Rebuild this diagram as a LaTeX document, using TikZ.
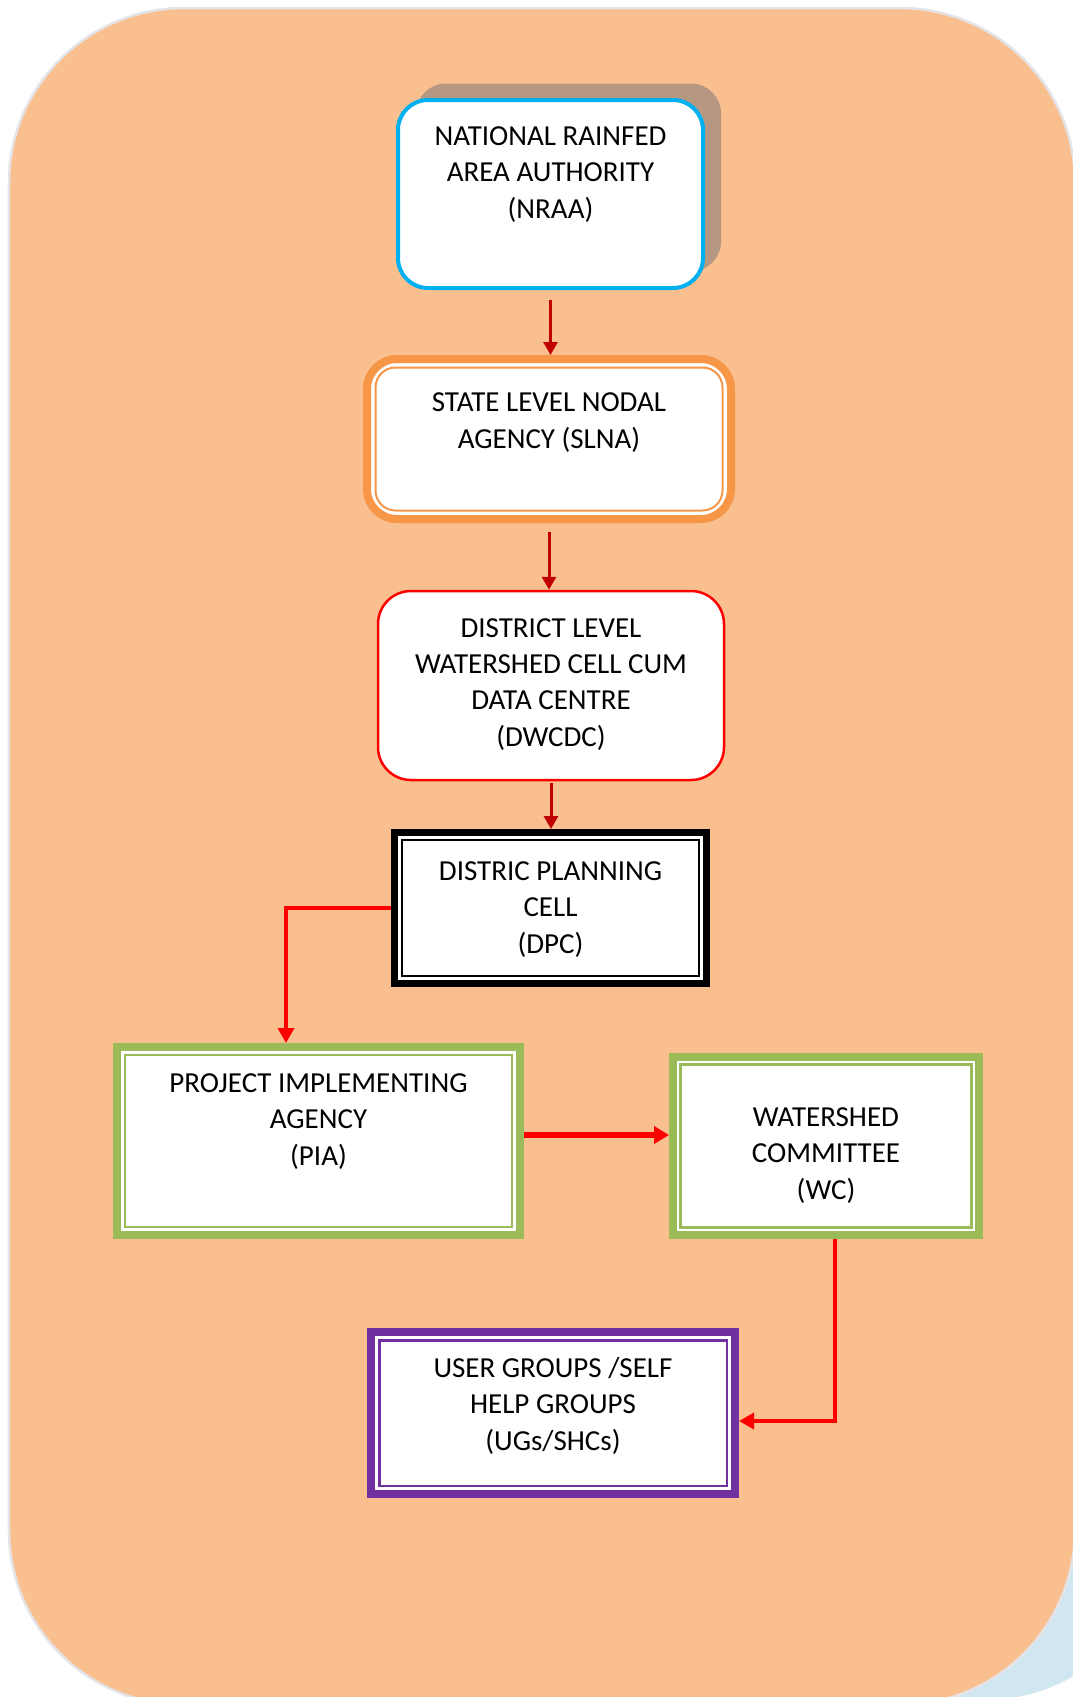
\documentclass[tikz,border=0pt]{standalone}
\usepackage{fontspec}
\setmainfont{Carlito}
\usepackage{tikz}
\usetikzlibrary{arrows.meta, positioning, shadows}
\definecolor{bgorange}{RGB}{250,191,143}
\definecolor{bgline}{RGB}{228,228,232}
\definecolor{bgshadow}{RGB}{208,231,242}
\definecolor{mycyan}{RGB}{0,176,240}
\definecolor{myorange}{RGB}{247,150,70}
\definecolor{myred}{RGB}{255,0,0}
\definecolor{mydarkred}{RGB}{192,0,0}
\definecolor{mygreen}{RGB}{155,187,89}
\definecolor{mypurple}{RGB}{112,48,160}
\definecolor{nraashadow}{RGB}{182,152,130}
\tikzset{
  orgbox/.style={rectangle, fill=white, align=center, inner sep=0pt,
    font=\fontsize{16.5}{20.5}\selectfont},
  nraabox/.style={orgbox, draw=mycyan, line width=0.08cm, rounded corners=0.6cm,
    drop shadow={shadow xshift=0.36cm, shadow yshift=0.33cm, fill=nraashadow, opacity=1}},
  slnabox/.style={orgbox, draw=myorange, line width=0.16cm, rounded corners=0.6cm},
  dwcdcbox/.style={orgbox, draw=myred, line width=0.05cm, rounded corners=0.66cm},
  dpcbox/.style={orgbox, draw=black, line width=0.14cm},
  greenbox/.style={orgbox, draw=mygreen, line width=0.16cm},
  ugbox/.style={orgbox, draw=mypurple, line width=0.16cm},
  darkarrow/.style={-{Triangle[length=0.26cm, width=0.28cm]}, line width=0.06cm, color=mydarkred},
  redarrow/.style={-{Triangle[length=0.3cm, width=0.32cm]}, line width=0.07cm, color=myred}
}
\begin{document}
\begin{tikzpicture}
  \useasboundingbox (0,0) rectangle (21.46,-33.94);
  \clip (0,0) rectangle (21.46,-33.94);

  % Page background
  \fill[bgshadow, rounded corners=3.5cm] (1.88,-8) rectangle (23.2,-34.0);
  \draw[fill=bgorange, draw=bgline, line width=0.05cm, rounded corners=3.5cm] (0.18,-0.16) rectangle (21.5,-34.1);

  % Hierarchy boxes
  \node[nraabox, minimum width=6.1cm, text height=2.36cm, text depth=1.40cm] (nraa) at (11.01,-3.88)
    {NATIONAL RAINFED\\AREA AUTHORITY\\(NRAA)};
  \node[slnabox, minimum width=7.28cm, text height=1.78cm, text depth=1.42cm] (slna) at (10.98,-8.78)
    {STATE LEVEL NODAL\\AGENCY (SLNA)};
  \node[dwcdcbox, minimum width=6.92cm, text height=3.10cm, text depth=0.68cm] (dwcdc) at (11.02,-13.71)
    {DISTRICT LEVEL\\WATERSHED CELL CUM\\DATA CENTRE\\(DWCDC)};
  \node[dpcbox, minimum width=6.24cm, text height=2.41cm, text depth=0.61cm] (dpc) at (11.01,-18.16)
    {DISTRIC PLANNING\\CELL\\(DPC)};
  \node[greenbox, minimum width=8.06cm, text height=2.36cm, text depth=1.40cm] (pia) at (6.37,-22.82)
    {PROJECT IMPLEMENTING\\AGENCY\\(PIA)};
  \node[greenbox, minimum width=6.12cm, text height=2.84cm, text depth=0.72cm] (wc) at (16.52,-22.92)
    {WATERSHED\\COMMITTEE\\(WC)};
  \node[ugbox, minimum width=7.28cm, text height=2.36cm, text depth=0.88cm] (ug) at (11.06,-28.26)
    {USER GROUPS /SELF\\HELP GROUPS\\(UGs/SHCs)};

  % Inner frames
  \draw[myorange, line width=0.04cm, rounded corners=0.4cm]
    ([shift={(0.25,-0.25)}]slna.north west) rectangle ([shift={(-0.25,0.25)}]slna.south east);
  \foreach \n/\c/\d in {dpc/black/0.22, pia/mygreen/0.24, wc/mygreen/0.23, ug/mypurple/0.245}
    \draw[\c, line width=0.05cm]
      ([shift={(\d,-\d)}]\n.north west) rectangle ([shift={(-\d,\d)}]\n.south east);

  % Connectors
  \draw[darkarrow, shorten <=0.2cm] (nraa.south) -- (nraa.south |- slna.north);
  \draw[darkarrow, shorten <=0.18cm] (slna.south) -- (slna.south |- dwcdc.north);
  \draw[darkarrow, shorten <=0.04cm] (dwcdc.south) -- (dwcdc.south |- dpc.north);
  \draw[redarrow] (dpc.west) -| ([xshift=-0.65cm]pia.north);
  \draw[redarrow, line width=0.13cm, -{Triangle[length=0.3cm, width=0.34cm]}]
    ([yshift=0.12cm]pia.east) -- ([yshift=0.12cm]pia.east -| wc.west);
  \draw[redarrow] ([xshift=0.18cm]wc.south) |- ([yshift=-0.16cm]ug.east);
\end{tikzpicture}
\end{document}
